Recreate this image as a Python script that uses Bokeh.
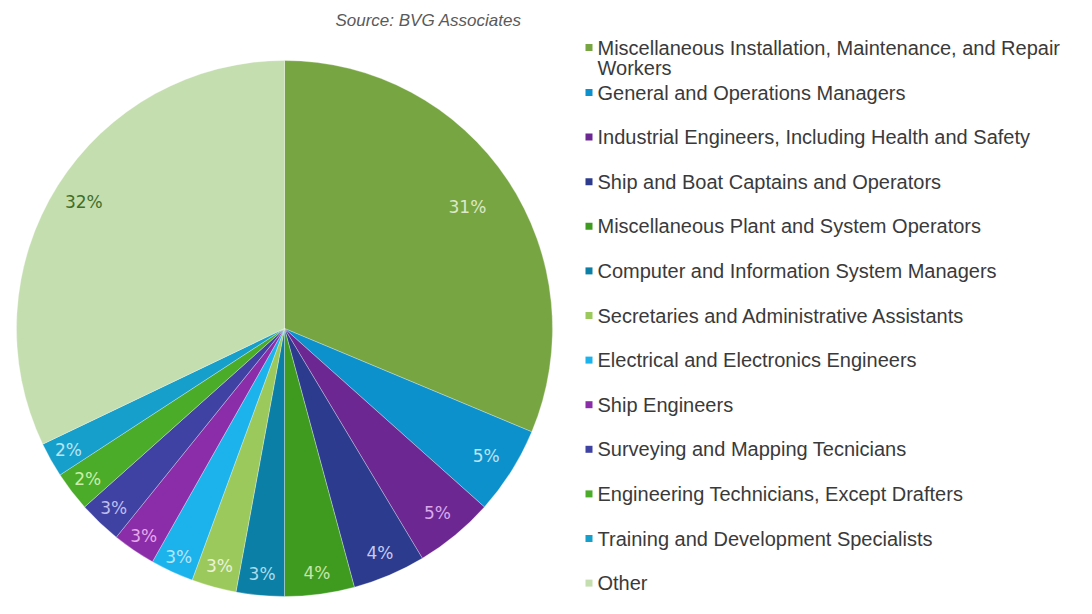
import math
import textwrap
from bokeh.plotting import figure
from bokeh.models import Range1d
from bokeh.core.properties import value
from bokeh.embed import file_html
from bokeh.resources import INLINE

# ---------------- data ----------------
categories = [
    "Miscellaneous Installation, Maintenance, and Repair Workers",
    "General and Operations Managers",
    "Industrial Engineers, Including Health and Safety",
    "Ship and Boat Captains and Operators",
    "Miscellaneous Plant and System Operators",
    "Computer and Information System Managers",
    "Secretaries and Administrative Assistants",
    "Electrical and Electronics Engineers",
    "Ship Engineers",
    "Surveying and Mapping Tecnicians",
    "Engineering Technicians, Except Drafters",
    "Training and Development Specialists",
    "Other",
]
shares = [31.3, 5.3, 4.8, 4.4, 4.2, 2.9, 2.7, 2.6, 2.6, 2.6, 2.4, 2.1, 32.1]
source_note = "Source: BVG Associates"

# ---------------- styles ----------------
colors = ["#77a542", "#0c91cc", "#6c2792", "#2c3b8e", "#3e9b20", "#0b7fa5",
          "#9cc95b", "#1cb3ec", "#8b2ca8", "#3f42a3", "#4aac28", "#169fcb", "#c4deaf"]
label_colors = ["#dde9c8", "#bfe3f4", "#dba9ec", "#c6cbf0", "#c6e6ac", "#acdcee",
                "#eaf3dc", "#b5e6f8", "#e4aaec", "#bebff0", "#cdeeaa", "#b8e6f3", "#3e6e2a"]
label_r = [0.82, 0.89, 0.895, 0.91, 0.92, 0.92, 0.92, 0.94, 0.935, 0.925, 0.925, 0.925, 0.885]

W, H = 1076, 598


def sx(X):
    return X


def sy(Y):
    return H - Y


p = figure(width=W, height=H, output_backend="svg", toolbar_location=None,
           x_range=Range1d(0, W), y_range=Range1d(0, H),
           x_axis_type=None, y_axis_type=None, min_border=0)
p.grid.visible = False
p.outline_line_color = None
p.background_fill_color = "white"
p.border_fill_color = "white"

cx, cy, R = sx(284), sy(328), 268
total = sum(shares)
starts, ends, lx, ly, ltxt = [], [], [], [], []
cum = 0.0
for i, s in enumerate(shares):
    a0 = math.pi / 2 - 2 * math.pi * cum / total
    a1 = math.pi / 2 - 2 * math.pi * (cum + s) / total
    starts.append(a0)
    ends.append(a1)
    mid = (a0 + a1) / 2
    lx.append(cx + R * label_r[i] * math.cos(mid))
    ly.append(cy + R * label_r[i] * math.sin(mid))
    ltxt.append(f"{int(s / total * 100 + 0.5)}%")
    cum += s

p.wedge(x=[cx] * len(shares), y=[cy] * len(shares), radius=R,
        start_angle=starts, end_angle=ends, direction="clock",
        fill_color=colors, line_color="white", line_width=0.6, line_alpha=0.5)

p.text(x=lx, y=ly, text=ltxt, text_color=label_colors,
       text_font=value("DejaVu Sans"), text_font_size="17px",
       text_align="center", text_baseline="middle")

# source note
p.text(x=[sx(428)], y=[sy(20)], text=[source_note], text_color="#5a5a5a",
       text_font=value("Liberation Sans"), text_font_size="17px",
       text_font_style="italic", text_align="center", text_baseline="middle")

# legend
row_y = []
for i in range(len(categories)):
    row_y.append(47 if i == 0 else 92 + (i - 1) * 44.6)

tx, ty, tt = [], [], []
for i, c in enumerate(categories):
    lines = textwrap.wrap(c, width=52)
    for j, ln in enumerate(lines):
        tx.append(sx(597))
        ty.append(sy(row_y[i] + j * 20))
        tt.append(ln)

p.rect(x=[sx(588.5)] * len(categories), y=[sy(v) for v in row_y],
       width=7, height=7, fill_color=colors, line_color=None)
p.text(x=tx, y=ty, text=tt, text_color="#3a3a3a",
       text_font=value("Liberation Sans"), text_font_size="20px",
       text_align="left", text_baseline="middle")

open("out.html", "w").write(file_html(p, INLINE))
